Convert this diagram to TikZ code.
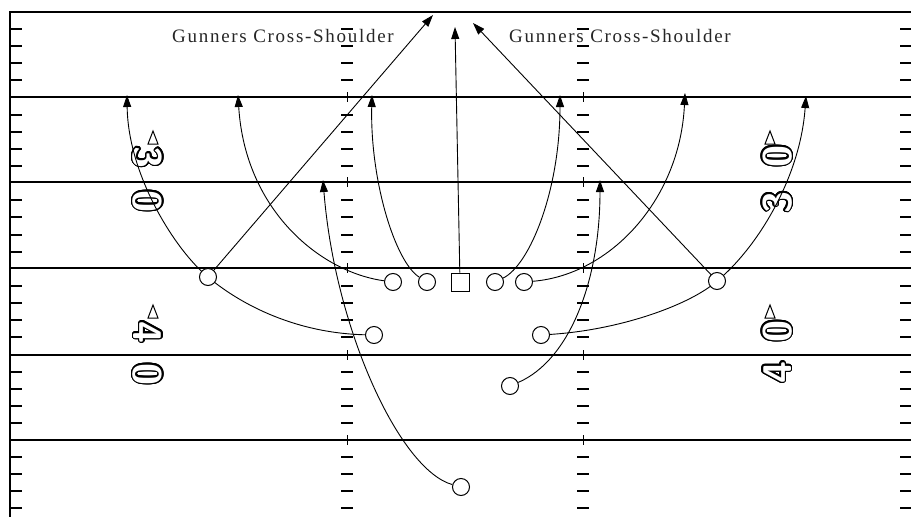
\documentclass[tikz,border=0pt]{standalone}
\usepackage{fontspec}
\setmainfont{Liberation Serif}
\usepackage[copies]{contour}
\usetikzlibrary{arrows.meta}
\pgfdeclarelayer{background}
\pgfsetlayers{background,main}
\contourlength{1.3pt}
\contournumber{24}
\begin{document}
\begin{tikzpicture}[x=1pt,y=-1pt,
  yardline/.style={line width=2pt},
  tickmark/.style={line width=2pt},
  route/.style={line width=0.9pt,-{Triangle[length=12pt,width=8pt]}},
  player/.style={circle,draw,line width=1pt,minimum size=17pt,inner sep=0pt,fill=white},
  centre/.style={rectangle,draw,line width=1pt,minimum size=18pt,inner sep=0pt,fill=white},
  playlabel/.style={font=\fontsize{19}{22}\selectfont\addfontfeature{LetterSpace=9},text=black!85,inner sep=0pt},
  digit/.style={font=\fontsize{40}{40}\selectfont\sffamily\bfseries,text=white,inner sep=0pt},
  pointer/.style={line width=1pt,fill=white}
]
\useasboundingbox (0,0) rectangle (911,517);

% ---------- field ----------
\begin{pgfonlayer}{background}
  \draw[yardline] (10,517) -- (10,12) -- (911,12);
  \foreach \yy in {97,182,268,355,440}{
    \draw[yardline] (10,\yy) -- (911,\yy);
    \draw[line width=1pt] (347,\yy-5) -- (347,\yy+5);
    \draw[line width=1pt] (583,\yy-5) -- (583,\yy+5);
  }
  \foreach \b in {0,...,5}{
    \foreach \j in {1,2,3,4}{
      \pgfmathsetmacro\yy{round(12+17.12*(5*\b+\j))}
      \draw[tickmark] (10,\yy) -- (22,\yy);
      \draw[tickmark] (341,\yy) -- (353,\yy);
      \draw[tickmark] (577,\yy) -- (589,\yy);
      \draw[tickmark] (900,\yy) -- (911,\yy);
    }
  }
  % yard numbers
  \node[digit,rotate=-90] (n3l) at (147,157) {\contour{black}{3}};
  \node[digit,rotate=-90] (n0l) at (147,201) {\contour{black}{0}};
  \node[digit,rotate=-90] (n4l) at (147,332) {\contour{black}{4}};
  \node[digit,rotate=-90] (n0lb) at (147,374) {\contour{black}{0}};
  \node[digit,rotate=90] (n0r) at (778,156) {\contour{black}{0}};
  \node[digit,rotate=90] (n3r) at (778,202) {\contour{black}{3}};
  \node[digit,rotate=90] (n0rb) at (778,331) {\contour{black}{0}};
  \node[digit,rotate=90] (n4r) at (778,372) {\contour{black}{4}};
  % direction pointers
  \draw[pointer] (148,144) -- (153,131) -- (158,144) -- cycle;
  \draw[pointer] (148,318) -- (153,305) -- (158,318) -- cycle;
  \draw[pointer] (765,144) -- (770,131) -- (775,144) -- cycle;
  \draw[pointer] (765,318) -- (770,305) -- (775,318) -- cycle;
\end{pgfonlayer}

% ---------- labels ----------
\node[playlabel] (lab1) at (283,36) {Gunners Cross-Shoulder};
\node[playlabel] (lab2) at (620,36) {Gunners Cross-Shoulder};

% ---------- players ----------
\node[centre] (c) at (460,282) {};
\node[player] (l1) at (393,282) {};
\node[player] (l2) at (427,282) {};
\node[player] (l3) at (495,282) {};
\node[player] (l4) at (524,282) {};
\node[player] (wl) at (208,277) {};
\node[player] (wr) at (717,281) {};
\node[player] (sl) at (374,335) {};
\node[player] (sr) at (541,335) {};
\node[player] (p) at (510,386) {};
\node[player] (d) at (461,487) {};

% ---------- route ends ----------
\coordinate (tWL) at (433,15);
\coordinate (tWR) at (473,23);
\coordinate (tC) at (455,27);
\coordinate (tSL) at (127,95);
\coordinate (tSR) at (806,96);
\coordinate (tL1) at (238,95);
\coordinate (tL2) at (372,95);
\coordinate (tL3) at (560,95);
\coordinate (tL4) at (685,93);
\coordinate (tP) at (600,180);
\coordinate (tD) at (323,180);

% ---------- routes ----------
\begin{pgfonlayer}{background}
  \draw[route] (wl) -- (tWL);
  \draw[route] (wr) -- (tWR);
  \draw[route] (c) -- (tC);
  \draw[route] (sl) .. controls (290,333) and (235,300) .. (wl.center)
                    .. controls (175,250) and (128,175) .. (tSL);
  \draw[route] (sr) .. controls (620,330) and (690,305) .. (wr.center)
                    .. controls (755,250) and (800,180) .. (tSR);
  \draw[route] (l1) .. controls (320,272) and (245,210) .. (tL1);
  \draw[route] (l2) .. controls (395,262) and (370,180) .. (tL2);
  \draw[route] (l3) .. controls (530,265) and (560,190) .. (tL3);
  \draw[route] (l4) .. controls (610,275) and (680,200) .. (tL4);
  \draw[route] (p) .. controls (570,360) and (600,280) .. (tP);
  \draw[route] (d) .. controls (400,470) and (335,330) .. (tD);
\end{pgfonlayer}
\end{tikzpicture}
\end{document}
